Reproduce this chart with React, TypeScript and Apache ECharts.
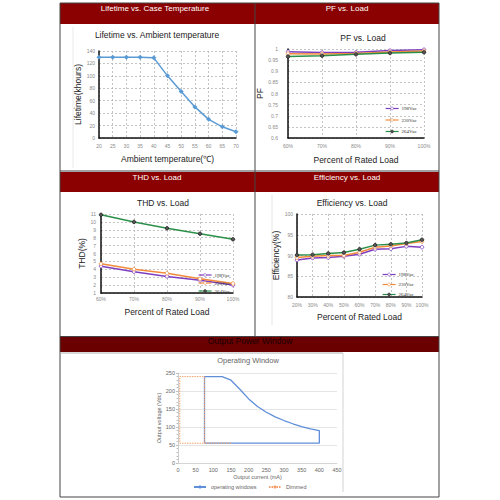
import React, { useEffect, useRef } from 'react';
import * as echarts from 'echarts';

// Lifetime vs. ambient temperature
const lifeTemps = [20, 25, 30, 35, 40, 45, 50, 55, 60, 65, 70];
const lifeHours = [130, 130, 130, 130, 129, 100, 75, 50, 30, 18, 10];

// PF vs. load
const pfLoads = ['60%', '70%', '80%', '90%', '100%'];
const pf198 = [0.988, 0.984, 0.985, 0.993, 0.997];
const pf230 = [0.979, 0.978, 0.98, 0.987, 0.991];
const pf264 = [0.966, 0.97, 0.976, 0.982, 0.985];

// THD vs. load
const thdLoads = ['60%', '70%', '80%', '90%', '100%'];
const thd198 = [4.4, 3.7, 3.1, 2.6, 2.0];
const thd230 = [4.7, 4.0, 3.5, 2.8, 2.2];
const thd264 = [10.9, 10.0, 9.2, 8.5, 7.8];

// Efficiency vs. load
const effLoads = ['20%', '30%', '40%', '50%', '60%', '70%', '80%', '90%', '100%'];
const eff198 = [88.9, 89.4, 89.5, 89.8, 90.3, 91.5, 91.6, 92.2, 92.0];
const eff230 = [89.5, 89.8, 90.0, 90.0, 90.8, 92.0, 92.3, 92.9, 93.4];
const eff264 = [90.1, 90.2, 90.5, 90.7, 91.5, 92.5, 92.7, 93.0, 93.8];

// Operating window
const owCurrent = [75, 75, 125, 150, 175, 200, 225, 250, 275, 300, 325, 350, 375, 400, 400, 75];
const owVoltage = [55, 240, 240, 230, 205, 178, 157, 141, 128, 118, 109, 101, 95, 90, 55, 55];
const dimCurrent = [150, 5, 5, 75, 75];
const dimVoltage = [55, 55, 240, 240, 55];

const vacNames = ['198Vac', '230Vac', '264Vac'];
const PURPLE = '#7d3fc0';
const ORANGE = '#f28a3c';
const GREEN = '#2b8f4a';
const FONT = '"Liberation Sans", Arial, sans-serif';

const dashedSplit = { show: true, lineStyle: { color: '#b5b5b5', type: [2, 2], width: 0.8 } };
const blackAxis = { show: true, lineStyle: { color: '#111', width: 1.5 } };
const tickLabel = (margin: number) => ({ fontSize: 5, color: '#8a8a8a', margin, fontFamily: FONT, interval: 0 });
const nameStyle = { fontSize: 8.5, color: '#222', fontFamily: FONT, fontWeight: 'normal' };

function vacSeries(name: string, data: number[], idx: number, color: string, dark: boolean) {
  return {
    type: 'line',
    name,
    xAxisIndex: idx,
    yAxisIndex: idx,
    data,
    symbol: 'circle',
    symbolSize: 3.5,
    lineStyle: { color, width: 1.5 },
    itemStyle: dark
      ? { color: '#555', borderColor: '#222', borderWidth: 0.8 }
      : { color: '#fff', borderColor: color, borderWidth: 0.8 },
  };
}

function catX(idx: number, data: string[], margin: number, name: string, gap: number) {
  return {
    type: 'category',
    gridIndex: idx,
    data,
    boundaryGap: false,
    axisLine: blackAxis,
    axisTick: { show: false },
    axisLabel: tickLabel(margin),
    splitLine: { ...dashedSplit, interval: 0 },
    name,
    nameLocation: 'middle',
    nameGap: gap,
    nameTextStyle: nameStyle,
  };
}

function valY(idx: number, min: number, max: number, interval: number, margin: number, name: string, gap: number) {
  return {
    type: 'value',
    gridIndex: idx,
    min,
    max,
    interval,
    axisLine: blackAxis,
    axisTick: { show: false },
    axisLabel: tickLabel(margin),
    splitLine: dashedSplit,
    name,
    nameLocation: 'middle',
    nameGap: gap,
    nameTextStyle: nameStyle,
  };
}

function vacLegend(left: number, top: number, gap: number, h: number) {
  return {
    data: vacNames,
    orient: 'vertical',
    left,
    top,
    padding: 0,
    itemGap: gap,
    itemWidth: 13,
    itemHeight: h,
    selectedMode: false,
    itemStyle: { borderWidth: 0.6 },
    lineStyle: { width: 1.2 },
    textStyle: { fontSize: 5, color: '#333', fontFamily: '"Liberation Serif", serif', padding: [0, 0, 0, -2] },
  };
}

function txt(x: number, y: number, text: string, size: number, fill: string) {
  return {
    type: 'text',
    x,
    y,
    style: {
      text,
      fill,
      fontSize: size,
      fontFamily: FONT,
      fontWeight: 'normal',
      align: 'center',
      verticalAlign: 'middle',
    },
  };
}

function ln(x1: number, y1: number, x2: number, y2: number, stroke: string, w = 1) {
  return { type: 'line', shape: { x1, y1, x2, y2 }, style: { stroke, lineWidth: w } };
}

function band(x: number, y: number, w: number, h: number, fill: string) {
  return { type: 'rect', shape: { x, y, width: w, height: h }, style: { fill } };
}

export default function App() {
  const ref = useRef<HTMLDivElement>(null);

  useEffect(() => {
    if (!ref.current) return;
    const chart = echarts.init(ref.current, undefined, { renderer: 'svg' });

    const option: any = {
      animation: false,
      backgroundColor: '#fff',
      grid: [
        { left: 99, top: 51, width: 137, height: 87 },
        { left: 288, top: 49, width: 136, height: 89 },
        { left: 101, top: 214, width: 132, height: 79 },
        { left: 297, top: 214, width: 125, height: 83 },
        { left: 178, top: 373, width: 159, height: 90 },
      ],
      xAxis: [
        {
          type: 'value',
          gridIndex: 0,
          min: 20,
          max: 70,
          interval: 5,
          axisLine: blackAxis,
          axisTick: { show: false },
          axisLabel: tickLabel(5),
          splitLine: dashedSplit,
          name: 'Ambient temperature(℃)',
          nameLocation: 'middle',
          nameGap: 16.5,
          nameTextStyle: nameStyle,
        },
        catX(1, pfLoads, 5, 'Percent of Rated Load', 17.5),
        catX(2, thdLoads, 3.5, 'Percent of Rated Load', 14.5),
        catX(3, effLoads, 5.5, 'Percent of Rated Load', 15.5),
        {
          type: 'value',
          gridIndex: 4,
          min: 0,
          max: 450,
          interval: 50,
          axisLine: { show: true, lineStyle: { color: '#d0d0d0', width: 0.8 } },
          axisTick: { show: false },
          axisLabel: { fontSize: 5.5, color: '#666', margin: 4, fontFamily: FONT },
          splitLine: { show: false },
          name: 'Output current (mA)',
          nameLocation: 'middle',
          nameGap: 11,
          nameTextStyle: { fontSize: 5.5, color: '#666', fontFamily: FONT },
        },
      ],
      yAxis: [
        valY(0, 0, 140, 20, 4, 'Lifetime(khours)', 13.5),
        valY(1, 0.6, 1, 0.05, 10, 'PF', 16.5),
        valY(2, 1, 11, 1, 5, 'THD(%)', 8.5),
        valY(3, 80, 100, 5, 4, 'Efficiency(%)', 14.5),
        {
          type: 'value',
          gridIndex: 4,
          min: 0,
          max: 250,
          interval: 50,
          axisLine: { show: true, lineStyle: { color: '#bfbfbf', width: 0.8 } },
          axisTick: { show: true, length: 2, lineStyle: { color: '#bfbfbf' } },
          minorTick: { show: true, splitNumber: 5, length: 1.5, lineStyle: { color: '#bfbfbf' } },
          axisLabel: { fontSize: 5.5, color: '#666', margin: 3, fontFamily: FONT },
          splitLine: { show: true, lineStyle: { color: '#dedede', width: 0.8 } },
          name: 'Output voltage (Vdc)',
          nameLocation: 'middle',
          nameGap: 13,
          nameTextStyle: { fontSize: 5.5, color: '#666', fontFamily: FONT },
        },
      ],
      legend: [
        vacLegend(385, 106, 6.5, 3.5),
        vacLegend(198, 272.5, 3, 3.5),
        vacLegend(382, 272, 5, 3.5),
        {
          data: ['operating windows'],
          left: 193,
          top: 484,
          padding: 0,
          itemWidth: 12,
          itemHeight: 4,
          selectedMode: false,
          textStyle: { fontSize: 5.5, color: '#666', fontFamily: FONT },
        },
        {
          data: ['Dimmed'],
          left: 268,
          top: 484,
          padding: 0,
          itemWidth: 12,
          itemHeight: 4,
          selectedMode: false,
          textStyle: { fontSize: 5.5, color: '#666', fontFamily: FONT },
        },
      ],
      series: [
        {
          type: 'line',
          name: 'Lifetime',
          xAxisIndex: 0,
          yAxisIndex: 0,
          data: lifeTemps.map((t, i) => [t, lifeHours[i]]),
          symbol: 'diamond',
          symbolSize: 5,
          lineStyle: { color: '#5b9bd5', width: 1.5 },
          itemStyle: { color: '#5b9bd5' },
        },
        vacSeries('198Vac', pf198, 1, PURPLE, false),
        vacSeries('230Vac', pf230, 1, ORANGE, false),
        vacSeries('264Vac', pf264, 1, GREEN, true),
        vacSeries('198Vac', thd198, 2, PURPLE, false),
        vacSeries('230Vac', thd230, 2, ORANGE, false),
        vacSeries('264Vac', thd264, 2, GREEN, true),
        vacSeries('198Vac', eff198, 3, PURPLE, false),
        vacSeries('230Vac', eff230, 3, ORANGE, false),
        vacSeries('264Vac', eff264, 3, GREEN, true),
        {
          type: 'line',
          name: 'operating windows',
          xAxisIndex: 4,
          yAxisIndex: 4,
          data: owCurrent.map((c, i) => [c, owVoltage[i]]),
          showSymbol: false,
          symbol: 'none',
          lineStyle: { color: '#5f8fd8', width: 1.3 },
          itemStyle: { color: '#5f8fd8' },
          z: 2,
        },
        {
          type: 'line',
          name: 'Dimmed',
          xAxisIndex: 4,
          yAxisIndex: 4,
          data: dimCurrent.map((c, i) => [c, dimVoltage[i]]),
          showSymbol: false,
          symbol: 'none',
          lineStyle: { color: '#f4a06a', width: 1, type: [1.5, 1] },
          itemStyle: { color: '#f4a06a' },
          z: 3,
        },
      ],
      graphic: [
        band(60, 3, 195, 21, '#8b0000'),
        band(255, 3, 184, 21, '#8b0000'),
        band(60, 172, 195, 20, '#8b0000'),
        band(255, 172, 184, 20, '#8b0000'),
        band(60, 337, 379, 15, '#6a0000'),
        { type: 'rect', shape: { x: 60, y: 3, width: 379, height: 494 }, style: { fill: 'none', stroke: '#444', lineWidth: 1 } },
        ln(255, 3, 255, 336, '#444'),
        ln(60, 171, 439, 171, '#444'),
        ln(60, 336.5, 439, 336.5, '#444'),
        ln(60, 353, 343, 353, '#b0b0b0', 1),
        ln(343, 353, 343, 492, '#c8c8c8', 0.8),
        ln(73, 27, 73, 168, '#e4e4e4', 0.8),
        ln(272, 195, 272, 325, '#e0e0e0', 0.8),
        txt(155, 8, 'Lifetime vs. Case Temperature', 8, '#fff'),
        txt(347, 8, 'PF vs. Load', 8, '#fff'),
        txt(157, 177, 'THD vs. Load', 8, '#fff'),
        txt(347, 177, 'Efficiency vs. Load', 8, '#fff'),
        txt(250, 341, 'Output Power Window', 8.5, '#1a0000'),
        txt(157, 35, 'Lifetime vs. Ambient temperature', 8.5, '#222'),
        txt(363, 38, 'PF vs. Load', 8.5, '#222'),
        txt(163, 203, 'THD vs. Load', 8.5, '#222'),
        txt(352, 203, 'Efficiency vs. Load', 8.5, '#222'),
        txt(248, 360, 'Operating Window', 7.5, '#666'),
      ],
    };

    chart.setOption(option);
    return () => {
      chart.dispose();
    };
  }, []);

  return (
    <div
      ref={ref}
      style={{ position: 'fixed', left: 0, top: 0, width: 500, height: 500, background: '#fff' }}
    />
  );
}
